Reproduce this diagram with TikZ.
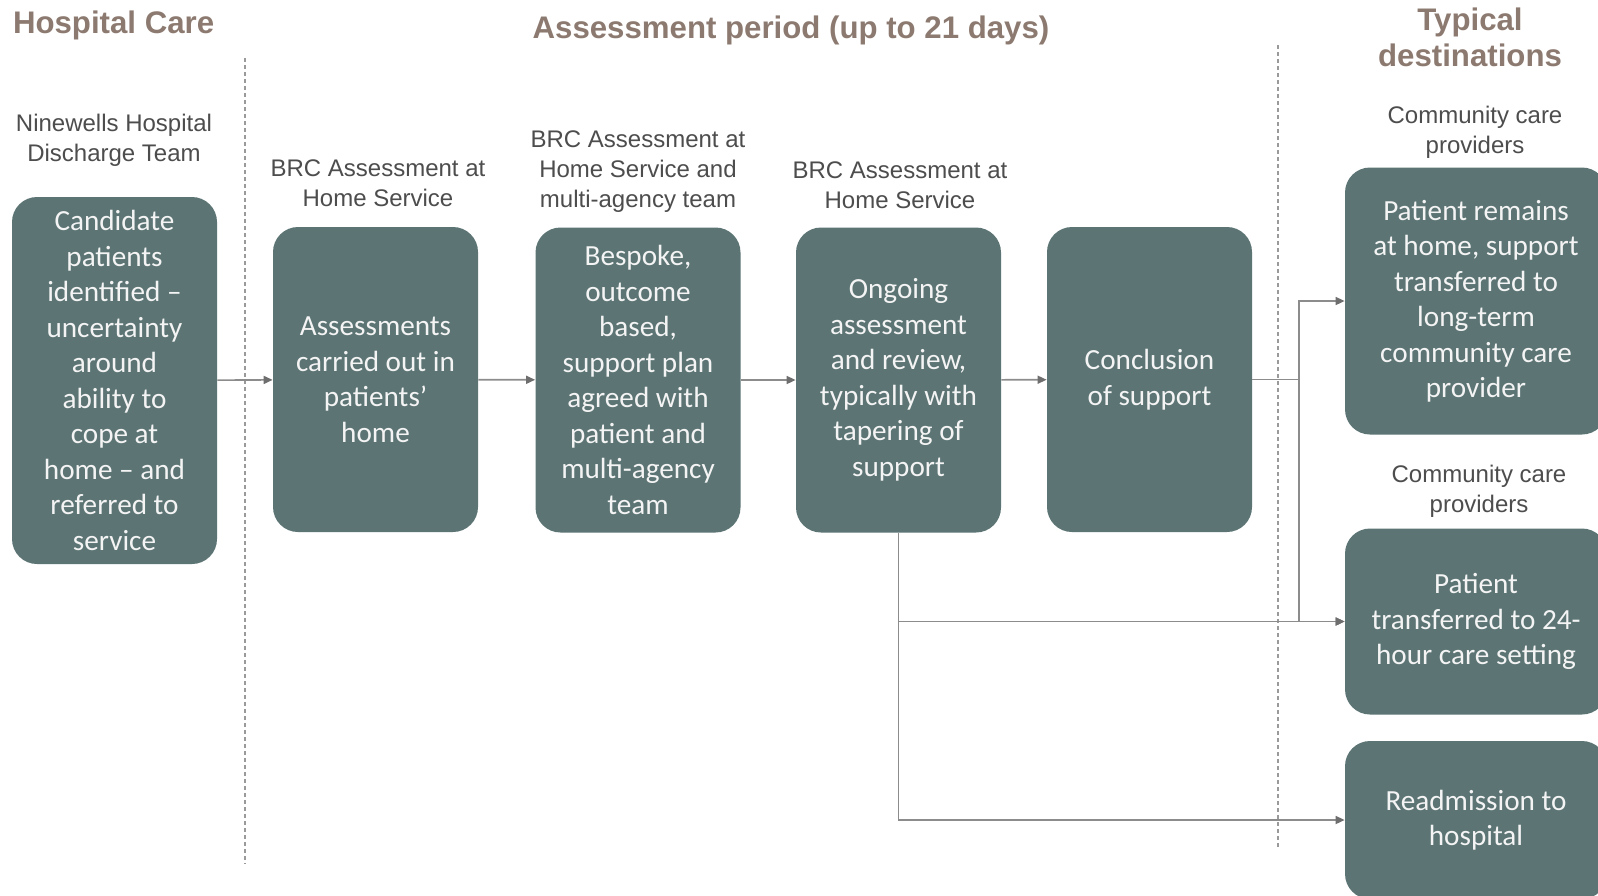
\documentclass[tikz,border=0pt]{standalone}
\usepackage{fontspec}
\setmainfont{Liberation Sans}
\newfontfamily\boxfont{Carlito}
\usetikzlibrary{arrows.meta}
\definecolor{boxfill}{HTML}{5C7474}
\definecolor{headc}{HTML}{8C7A70}
\definecolor{labc}{HTML}{4D4D4D}
\definecolor{linec}{HTML}{8C8C8C}
\definecolor{tipc}{HTML}{6E6E6E}
\definecolor{dashc}{HTML}{9A9A9A}
\definecolor{boxtext}{HTML}{F4F4F4}
\begin{document}
\begin{tikzpicture}[x=0.5pt,y=-0.5pt,
 box/.style={draw=none, fill=boxfill, rounded corners=12.5pt, text=boxtext, font=\boxfont\fontsize{14.6}{17.75}\selectfont, align=center, inner sep=0pt},
 mid/.style={box, minimum width=102.5pt, minimum height=152.5pt},
 dest/.style={box, minimum width=131pt},
 head/.style={text=headc, font=\bfseries\fontsize{15.6}{18}\selectfont, align=center, inner sep=0pt},
 lab/.style={text=labc, font=\fontsize{12}{15}\selectfont, align=center, inner sep=0pt},
 conn/.style={draw=linec, line width=0.8pt, -{Triangle[length=4.5pt,width=4pt,color=tipc]}},
 plain/.style={draw=linec, line width=0.8pt},
 sep/.style={draw=dashc, line width=0.6pt, dash pattern=on 2pt off 1.5pt}]
\clip (0,0) rectangle (1598,895);
\fill[white] (0,0) rectangle (1598,895);

% separators
\draw[sep] (245,58) -- (245,864);
\draw[sep] (1278,45) -- (1278,850);

% headers
\node[head] (hc) at (113.6,25) {Hospital Care};
\node[head] (ap) at (791,30.5) {Assessment period (up to 21 days)};
\node[head] (td) at (1470,37) {Typical\\destinations};

% labels
\node[lab] (l1) at (114,140) {Ninewells Hospital\\Discharge Team};
\node[lab] (l2) at (378,183) {BRC Assessment at\\Home Service};
\node[lab] (l3) at (638,172) {BRC Assessment at\\Home Service and\\multi-agency team};
\node[lab] (l4) at (900,185) {BRC Assessment at\\Home Service};
\node[lab] (l6) at (1475,132) {Community care\\providers};
\node[lab] (l7) at (1479,491.5) {Community care\\providers};

% boxes
\node[box, minimum width=102.5pt, minimum height=183.5pt] (b1) at (114.5,380.5) {Candidate\\patients\\identified –\\uncertainty\\around\\ability to\\cope at\\home – and\\referred to\\service};
\node[mid] (b2) at (375.5,379.5) {Assessments\\carried out in\\patients’\\home};
\node[mid] (b3) at (638,380) {Bespoke,\\outcome\\based,\\support plan\\agreed with\\patient and\\multi-agency\\team};
\node[mid] (b4) at (898.5,380) {Ongoing\\assessment\\and review,\\typically with\\tapering of\\support};
\node[mid] (b5) at (1149.5,379.5) {Conclusion\\of support};
\node[dest, minimum height=133.5pt] (b6) at (1476,301) {Patient remains\\at home, support\\transferred to\\long-term\\community care\\provider};
\node[dest, minimum height=93pt] (b7) at (1476,621.5) {Patient\\transferred to 24-\\hour care setting};
\node[dest, minimum height=79pt] (b8) at (1476,820) {Readmission to\\hospital};

% connectors
\coordinate (j1) at (1299,379.5);
\draw[conn] (b1) -- (b2);
\draw[conn] (b2) -- (b3);
\draw[conn] (b3) -- (b4);
\draw[conn] (b4) -- (b5);
\draw[plain] (b5.east) -- (j1);
\draw[conn] (j1) |- (b6.west);
\draw[conn] (j1) |- (b7.west);
\draw[conn] (b4.south) |- (b8.west);
\draw[conn] (b4.south |- b7.west) -- (b7.west);
\end{tikzpicture}
\end{document}
